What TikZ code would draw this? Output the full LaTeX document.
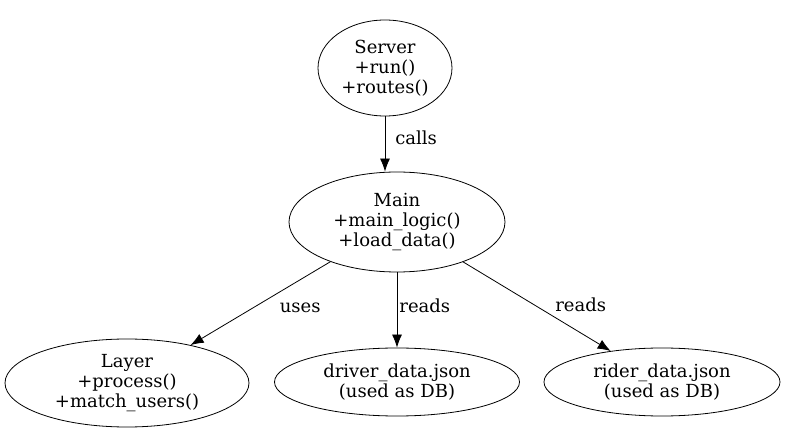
\documentclass[tikz,border=0pt]{standalone}
\usepackage{fontspec}
\setmainfont{DejaVu Serif}
\usetikzlibrary{shapes.geometric,arrows.meta,calc}

\begin{document}
\begin{tikzpicture}[x=1pt,y=-1pt,>={Latex[length=13pt,width=10pt]},line width=0.8pt,
    box/.style={draw, ellipse, inner sep=0pt, align=center, font=\fontsize{18}{20}\selectfont},
    lbl/.style={font=\fontsize{18}{20}\selectfont, inner sep=2pt}]
    %frame
    \useasboundingbox (0,0) rectangle (785,446);

    %nodes
    \node[box, minimum width=134pt, minimum height=96pt] (Server) at (385,68) {Server\\+run()\\+routes()};
    \node[box, minimum width=216pt, minimum height=100pt] (Main) at (397,222) {Main\\+main\_logic()\\+load\_data()};
    \node[box, minimum width=244pt, minimum height=88pt] (Layer) at (127,383) {Layer\\+process()\\+match\_users()};
    \node[box, minimum width=245pt, minimum height=68pt] (Driver) at (397,382) {driver\_data.json\\(used as DB)};
    \node[box, minimum width=236pt, minimum height=68pt] (Rider) at (662,382) {rider\_data.json\\(used as DB)};

    %edges
    \draw[->] (Server) -- node[lbl, right, xshift=8pt, yshift=6pt]{calls} (Server |- Main.north);
    \draw[->] (Main) -- node[lbl, pos=0.5, right, xshift=17pt, yshift=-4pt]{uses} (Layer);
    \draw[->] (Main) -- node[lbl, right, yshift=4pt]{reads} (Driver);
    \draw[->] (Main) -- node[lbl, pos=0.5, right, xshift=16pt, yshift=2pt]{reads} (Rider);
\end{tikzpicture}
\end{document}
